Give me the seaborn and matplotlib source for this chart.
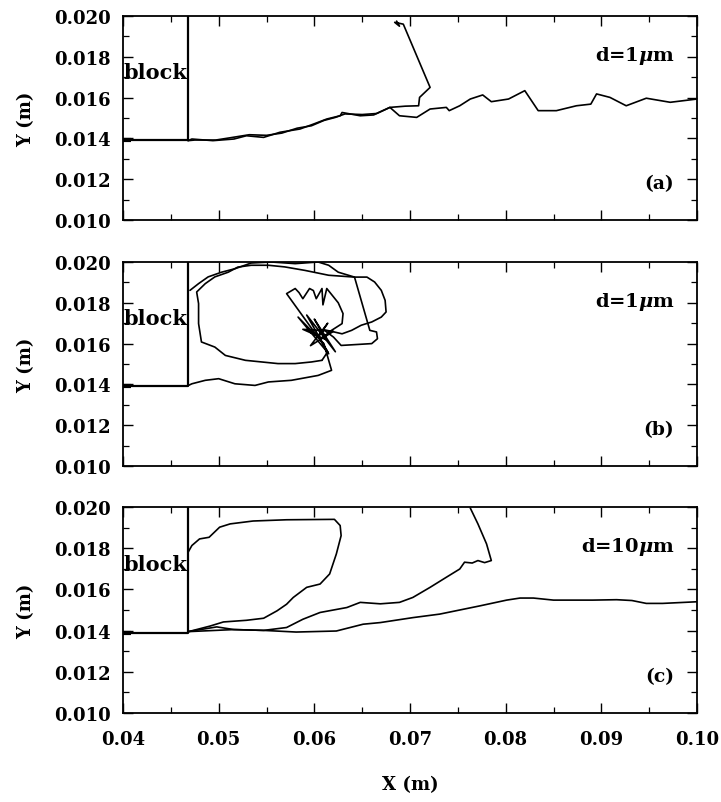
import numpy as np
import pandas as pd
import matplotlib
matplotlib.use("Agg")
import matplotlib.pyplot as plt
import seaborn as sns
from matplotlib.ticker import MultipleLocator, FormatStrFormatter

# ---------------- data ----------------
block_x = [0.0400, 0.0468, 0.0468]
block_y = [0.0139, 0.0139, 0.0200]

# panel (a)  d = 1 um
a1_x = [0.0468, 0.0472, 0.0494, 0.0516, 0.0529, 0.0547, 0.0564, 0.0585, 0.0599, 0.0613,
        0.0627, 0.0629, 0.0648, 0.0662, 0.0679, 0.0689, 0.0707, 0.0721, 0.0738, 0.0741,
        0.0752, 0.0763, 0.0776, 0.0785, 0.0803, 0.0820, 0.0834, 0.0853, 0.0874, 0.0889,
        0.0895, 0.0909, 0.0926, 0.0947, 0.0972, 0.1000]
a1_y = [0.01389, 0.01397, 0.01389, 0.01397, 0.01413, 0.01405, 0.01430, 0.01446, 0.01470, 0.01495,
        0.01511, 0.01527, 0.01511, 0.01515, 0.01552, 0.01511, 0.01503, 0.01544, 0.01552, 0.01536,
        0.01560, 0.01593, 0.01613, 0.01580, 0.01593, 0.01634, 0.01536, 0.01536, 0.01560, 0.01568,
        0.01618, 0.01601, 0.01560, 0.01597, 0.01577, 0.01593]
a2_x = [0.0468, 0.0475, 0.0497, 0.0512, 0.0532, 0.0550, 0.0566, 0.0582, 0.0597, 0.0610,
        0.0622, 0.0632, 0.0650, 0.0665, 0.0679, 0.0695, 0.0709, 0.0710, 0.0721, 0.0693,
        0.0684, 0.0689, 0.0686]
a2_y = [0.01389, 0.01392, 0.01392, 0.01403, 0.01418, 0.01415, 0.01426, 0.01450, 0.01462, 0.01488,
        0.01503, 0.01520, 0.01517, 0.01522, 0.01552, 0.01558, 0.01560, 0.01601, 0.01650, 0.01960,
        0.01969, 0.01950, 0.01975]

# panel (b)  d = 1 um
b1_x = [0.0470, 0.0479, 0.0489, 0.0503, 0.0517, 0.0534, 0.0555, 0.0580, 0.0604, 0.0615,
        0.0625, 0.0642, 0.0655, 0.0663, 0.0670, 0.0674, 0.0675, 0.0670, 0.0660, 0.0649,
        0.0639, 0.0629, 0.0618, 0.0610]
b1_y = [0.01861, 0.01894, 0.01927, 0.01950, 0.01967, 0.01995, 0.02000, 0.01992, 0.02000, 0.01984,
        0.01950, 0.01926, 0.01926, 0.01902, 0.01861, 0.01812, 0.01755, 0.01730, 0.01706, 0.01690,
        0.01665, 0.01648, 0.01660, 0.01668]
b2_x = [0.0468, 0.0472, 0.0486, 0.0500, 0.0517, 0.0538, 0.0552, 0.0576, 0.0604, 0.0618,
        0.0610, 0.0583, 0.0615, 0.0592, 0.0622, 0.0600, 0.0612, 0.0588, 0.0620, 0.0596,
        0.0614, 0.0604, 0.0571, 0.0580, 0.0584, 0.0588, 0.0595, 0.0599,
        0.0602, 0.0608, 0.0609, 0.0613, 0.0625, 0.0630, 0.0629, 0.0618, 0.0606, 0.0614,
        0.0608]
b2_y = [0.01394, 0.01403, 0.01420, 0.01428, 0.01403, 0.01395, 0.01412, 0.01420, 0.01444, 0.01469,
        0.01600, 0.01730, 0.01550, 0.01740, 0.01560, 0.01720, 0.01620, 0.01670, 0.01660, 0.01590,
        0.01700, 0.01630, 0.01845, 0.01870, 0.01850, 0.01820, 0.01870, 0.01860,
        0.01820, 0.01870, 0.01790, 0.01870, 0.01800, 0.01747, 0.01698, 0.01665, 0.01620, 0.01560,
        0.01518]
b3_x = [0.0608, 0.0597, 0.0580, 0.0562, 0.0545, 0.0528, 0.0507, 0.0496, 0.0482, 0.0479,
        0.0479, 0.0477, 0.0486, 0.0496, 0.0510, 0.0520, 0.0534, 0.0552, 0.0569, 0.0590,
        0.0615, 0.0642, 0.0658, 0.0665, 0.0666, 0.0660, 0.0646, 0.0628, 0.0620, 0.0612]
b3_y = [0.01518, 0.01510, 0.01502, 0.01502, 0.01510, 0.01518, 0.01542, 0.01583, 0.01608, 0.01698,
        0.01796, 0.01853, 0.01894, 0.01927, 0.01950, 0.01975, 0.01984, 0.01984, 0.01976, 0.01959,
        0.01935, 0.01926, 0.01665, 0.01657, 0.01624, 0.01600, 0.01596, 0.01591, 0.01632, 0.01660]

# panel (c)  d = 10 um
c1_x = [0.0468, 0.0471, 0.0491, 0.0505, 0.0529, 0.0547, 0.0561, 0.0571, 0.0578, 0.0592,
        0.0606, 0.0616, 0.0623, 0.0628, 0.0627, 0.0621, 0.0571, 0.0536, 0.0512, 0.0501,
        0.0490, 0.0480, 0.0472, 0.0468]
c1_y = [0.01395, 0.01398, 0.01422, 0.01442, 0.01450, 0.01460, 0.01496, 0.01528, 0.01561, 0.01610,
        0.01626, 0.01675, 0.01772, 0.01861, 0.01910, 0.01940, 0.01938, 0.01932, 0.01918, 0.01902,
        0.01853, 0.01845, 0.01813, 0.01780]
c2_x = [0.0468, 0.0498, 0.0516, 0.0547, 0.0571, 0.0588, 0.0606, 0.0634, 0.0648, 0.0669,
        0.0689, 0.0703, 0.0721, 0.0738, 0.0752, 0.0757, 0.0765, 0.0771, 0.0778, 0.0785,
        0.0780, 0.0771, 0.0763]
c2_y = [0.01395, 0.01418, 0.01405, 0.01401, 0.01415, 0.01455, 0.01488, 0.01512, 0.01537, 0.01530,
        0.01537, 0.01561, 0.01610, 0.01659, 0.01699, 0.01732, 0.01728, 0.01740, 0.01730, 0.01740,
        0.01821, 0.01918, 0.01995]
c3_x = [0.0468, 0.0516, 0.0547, 0.0581, 0.0623, 0.0651, 0.0669, 0.0703, 0.0731, 0.0773,
        0.0801, 0.0815, 0.0829, 0.0850, 0.0891, 0.0916, 0.0932, 0.0947, 0.0964, 0.1000]
c3_y = [0.01395, 0.01405, 0.01401, 0.01393, 0.01398, 0.01431, 0.01439, 0.01463, 0.01480, 0.01520,
        0.01548, 0.01558, 0.01558, 0.01548, 0.01548, 0.01550, 0.01546, 0.01532, 0.01532, 0.01540]

panels = [
    ("(a)", r"d=1$\mathbfit{\mu}$m", [(a1_x, a1_y), (a2_x, a2_y)]),
    ("(b)", r"d=1$\mathbfit{\mu}$m", [(b1_x, b1_y), (b2_x, b2_y), (b3_x, b3_y)]),
    ("(c)", r"d=10$\mathbfit{\mu}$m", [(c1_x, c1_y), (c2_x, c2_y), (c3_x, c3_y)]),
]

x_ticks = [0.04, 0.05, 0.06, 0.07, 0.08, 0.09, 0.10]
y_ticks = [0.010, 0.012, 0.014, 0.016, 0.018, 0.020]

# ---------------- style ----------------
sns.set_theme(style="ticks")
plt.rcParams['font.family'] = ['DejaVu Serif']
plt.rcParams['font.weight'] = 'bold'
plt.rcParams['mathtext.fontset'] = 'dejavuserif'
for k in ['text.color', 'axes.labelcolor', 'xtick.color', 'ytick.color', 'axes.edgecolor']:
    plt.rcParams[k] = 'black'

fig = plt.figure(figsize=(7.21, 8.03), dpi=100)
left, width = 123 / 721, (697 - 123) / 721
axes_rects = [
    (left, 1 - 221 / 803, width, 204 / 803),
    (left, 1 - 467 / 803, width, 204 / 803),
    (left, 1 - 714 / 803, width, 206 / 803),
]

for i, ((lab, dlab, segs), rect) in enumerate(zip(panels, axes_rects)):
    ax = fig.add_axes(rect)
    for sx, sy in segs:
        df = pd.DataFrame({"x": sx, "y": sy})
        sns.lineplot(data=df, x="x", y="y", sort=False, estimator=None,
                     color="black", lw=1.2, ax=ax)
    ax.plot(block_x, block_y, color="black", lw=1.6)
    ax.plot([0.0400, 0.0408], [0.0139, 0.0139], color="black", lw=3.0, solid_capstyle="butt")
    ax.set_xlim(0.04, 0.10)
    ax.set_ylim(0.010, 0.020)
    ax.set_xticks(x_ticks)
    ax.set_yticks(y_ticks)
    ax.xaxis.set_minor_locator(MultipleLocator(0.005))
    ax.yaxis.set_minor_locator(MultipleLocator(0.001))
    ax.yaxis.set_major_formatter(FormatStrFormatter("%.3f"))
    ax.xaxis.set_major_formatter(FormatStrFormatter("%.2f"))
    ax.tick_params(which="major", direction="in", top=True, right=True, length=7, width=1.0,
                   labelsize=13, colors="black")
    ax.tick_params(axis="y", which="major", pad=9)
    ax.tick_params(axis="x", which="major", pad=12)
    ax.tick_params(which="minor", direction="in", top=True, right=True, length=4, width=0.9)
    for lbl in ax.get_xticklabels() + ax.get_yticklabels():
        lbl.set_fontweight("bold")
    for sp in ax.spines.values():
        sp.set_linewidth(1.3)
        sp.set_color("black")
    ax.set_ylabel("Y (m)", fontsize=13, fontweight="bold", labelpad=13)
    if i < 2:
        ax.set_xlabel("")
        ax.tick_params(labelbottom=False)
    else:
        ax.set_xlabel("X (m)", fontsize=13, fontweight="bold", labelpad=20)
    ax.text(0.0977, 0.0181, dlab, ha="right", va="center", fontsize=14, fontweight="bold")
    ax.text(0.0976, 0.0118, lab, ha="right", va="center", fontsize=13.5, fontweight="bold")
    ax.text(0.0401, 0.01725, "block", ha="left", va="center", fontsize=15, fontweight="bold")

fig.savefig("out.png", dpi=100)
